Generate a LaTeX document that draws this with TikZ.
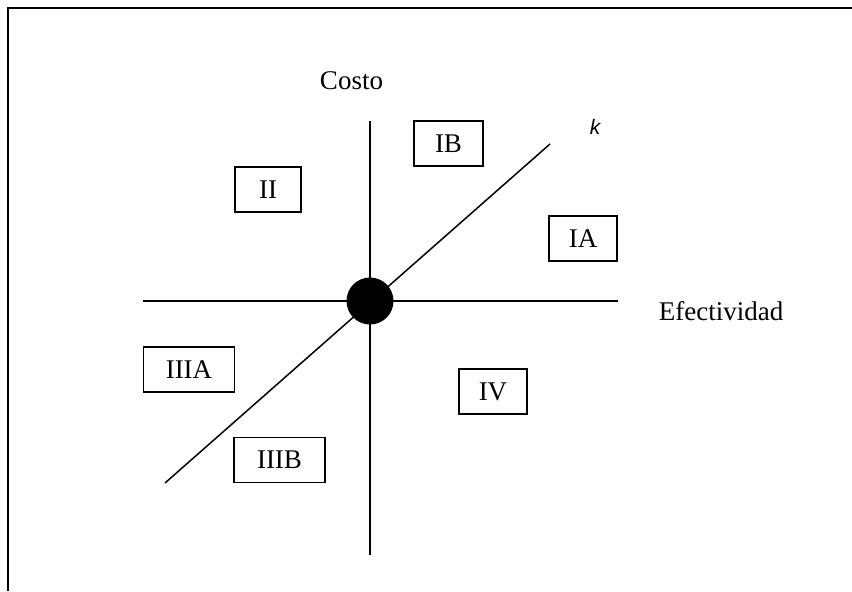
\documentclass[tikz,border=0pt]{standalone}
\usepackage{fontspec}
\setmainfont{Liberation Serif}
\newfontfamily\ksans{Liberation Sans}
\usetikzlibrary{positioning}

\begin{document}
\begin{tikzpicture}[x=0.5pt,y=-0.5pt, every node/.style={font=\fontsize{13.5}{16}\selectfont},
    zone/.style={draw, line width=0.75pt, minimum height=22.5pt, inner sep=0pt},
    axis/.style={line width=0.75pt}]
    \useasboundingbox (0,0) rectangle (852,591);
    % marco
    \draw[line width=1.25pt] (852,8) -- (8,8) -- (8,591);
    % ejes
    \coordinate (costoTop) at (370,121);
    \coordinate (costoBot) at (370,555);
    \coordinate (efecL) at (143,301);
    \coordinate (efecR) at (618,301);
    \coordinate (kLow) at (165,483);
    \coordinate (kHigh) at (550,144);
    \draw[axis] (costoTop) -- (costoBot);
    \draw[axis] (efecL) -- (efecR);
    \draw[axis] (kLow) -- (kHigh);
    \node[circle, fill=black, minimum size=23.5pt, inner sep=0pt] (origen) at (370,301) {};
    % etiquetas
    \node (costo) at (351.5,81) {Costo};
    \node (efectividad) at (721,311) {Efectividad};
    \node[font=\fontsize{10.5}{12}\selectfont\ksans\itshape] (k) at (595,127) {k};
    % zonas
    \node[zone, minimum width=33pt] (zII) at (268,189.5) {II};
    \node[zone, minimum width=34.5pt] (zIB) at (448.5,143.5) {IB};
    \node[zone, minimum width=34pt] (zIA) at (583,238.5) {IA};
    \node[zone, minimum width=45.5pt] (zIIIA) at (189,369.5) {IIIA};
    \node[zone, minimum width=34pt] (zIV) at (493,391.5) {IV};
    \node[zone, minimum width=45.5pt] (zIIIB) at (279.5,460) {IIIB};
  \end{tikzpicture}
\end{document}
